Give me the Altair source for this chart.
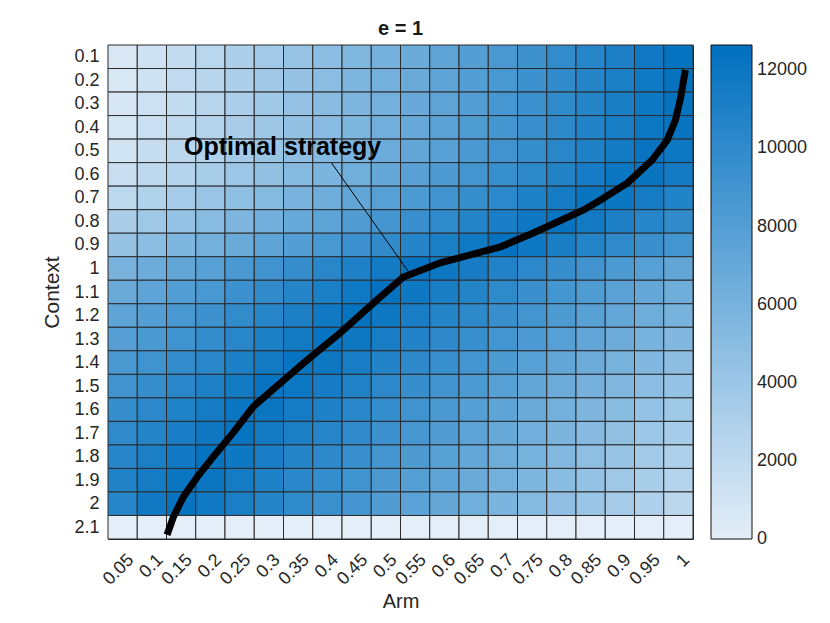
import altair as alt
import pandas as pd

arms = [0.05, 0.1, 0.15, 0.2, 0.25, 0.3, 0.35, 0.4, 0.45, 0.5,
        0.55, 0.6, 0.65, 0.7, 0.75, 0.8, 0.85, 0.9, 0.95, 1.0]
contexts = [0.1, 0.2, 0.3, 0.4, 0.5, 0.6, 0.7, 0.8, 0.9, 1.0, 1.1,
            1.2, 1.3, 1.4, 1.5, 1.6, 1.7, 1.8, 1.9, 2.0, 2.1]

# one list per context row (0.1 ... 2.1), values per arm (0.05 ... 1)
row_01 = [560, 1180, 1800, 2420, 3040, 3660, 4280, 4900, 5520, 6140, 6760, 7380, 8000, 8620, 9240, 9860, 10480, 11100, 11720, 12340]
row_02 = [620, 1240, 1860, 2480, 3100, 3720, 4340, 4960, 5580, 6200, 6820, 7440, 8060, 8680, 9300, 9920, 10540, 11160, 11780, 12400]
row_03 = [680, 1300, 1920, 2540, 3160, 3780, 4400, 5020, 5640, 6260, 6880, 7500, 8120, 8740, 9360, 9980, 10600, 11220, 11840, 12340]
row_04 = [810, 1430, 2050, 2670, 3290, 3910, 4530, 5150, 5770, 6390, 7010, 7630, 8250, 8870, 9490, 10110, 10730, 11350, 11970, 12220]
row_05 = [1050, 1670, 2290, 2910, 3530, 4150, 4770, 5390, 6010, 6630, 7250, 7870, 8490, 9110, 9730, 10350, 10970, 11590, 12210, 11990]
row_06 = [1490, 2110, 2730, 3350, 3970, 4590, 5210, 5830, 6450, 7070, 7690, 8310, 8930, 9550, 10170, 10790, 11410, 12030, 12160, 11570]
row_07 = [2230, 2850, 3470, 4090, 4710, 5330, 5950, 6570, 7190, 7810, 8430, 9050, 9670, 10290, 10910, 11530, 12150, 12050, 11460, 10870]
row_08 = [3220, 3840, 4460, 5080, 5700, 6320, 6940, 7560, 8180, 8800, 9420, 10040, 10660, 11280, 11900, 12280, 11690, 11100, 10510, 9920]
row_09 = [4340, 4960, 5580, 6200, 6820, 7440, 8060, 8680, 9300, 9920, 10540, 11160, 11780, 12400, 11810, 11220, 10630, 10040, 9450, 8860]
row_10 = [6010, 6630, 7250, 7870, 8490, 9110, 9730, 10350, 10970, 11590, 12210, 11990, 11400, 10810, 10220, 9630, 9040, 8450, 7860, 7270]
row_11 = [6820, 7440, 8060, 8680, 9300, 9920, 10540, 11160, 11780, 12400, 11810, 11220, 10630, 10040, 9450, 8860, 8270, 7680, 7090, 6500]
row_12 = [7380, 8000, 8620, 9240, 9860, 10480, 11100, 11720, 12340, 11870, 11280, 10690, 10100, 9510, 8920, 8330, 7740, 7150, 6560, 5970]
row_13 = [7940, 8560, 9180, 9800, 10420, 11040, 11660, 12280, 11930, 11340, 10750, 10160, 9570, 8980, 8390, 7800, 7210, 6620, 6030, 5440]
row_14 = [8560, 9180, 9800, 10420, 11040, 11660, 12280, 11930, 11340, 10750, 10160, 9570, 8980, 8390, 7800, 7210, 6620, 6030, 5440, 4850]
row_15 = [9110, 9730, 10350, 10970, 11590, 12210, 11990, 11400, 10810, 10220, 9630, 9040, 8450, 7860, 7270, 6680, 6090, 5500, 4910, 4320]
row_16 = [9610, 10230, 10850, 11470, 12090, 12110, 11520, 10930, 10340, 9750, 9160, 8570, 7980, 7390, 6800, 6210, 5620, 5030, 4440, 3850]
row_17 = [10040, 10660, 11280, 11900, 12280, 11690, 11100, 10510, 9920, 9330, 8740, 8150, 7560, 6970, 6380, 5790, 5200, 4610, 4020, 3430]
row_18 = [10480, 11100, 11720, 12340, 11870, 11280, 10690, 10100, 9510, 8920, 8330, 7740, 7150, 6560, 5970, 5380, 4790, 4200, 3610, 3020]
row_19 = [10850, 11470, 12090, 12110, 11520, 10930, 10340, 9750, 9160, 8570, 7980, 7390, 6800, 6210, 5620, 5030, 4440, 3850, 3260, 2670]
row_20 = [10500, 11700, 12340, 11750, 11160, 10570, 9980, 9390, 8800, 8210, 7620, 7030, 6440, 5850, 5260, 4670, 4080, 3490, 2900, 2310]
row_21 = [0, 0, 0, 0, 0, 0, 0, 0, 0, 0, 0, 0, 0, 0, 0, 0, 0, 0, 0, 0]

rows = [row_01, row_02, row_03, row_04, row_05, row_06, row_07, row_08, row_09, row_10, row_11,
        row_12, row_13, row_14, row_15, row_16, row_17, row_18, row_19, row_20, row_21]

# optimal strategy curve (arm, context)
curve_arm = [1.012, 1.003, 0.995, 0.981, 0.955, 0.913, 0.867, 0.838, 0.752, 0.696, 0.593, 0.530,
             0.485, 0.422, 0.366, 0.320, 0.273, 0.239, 0.205, 0.178, 0.154, 0.137, 0.126]
curve_ctx = [0.156, 0.284, 0.369, 0.454, 0.539, 0.636, 0.709, 0.751, 0.849, 0.908, 0.976, 1.036,
             1.133, 1.274, 1.388, 1.486, 1.588, 1.698, 1.800, 1.885, 1.970, 2.055, 2.132]

label_text = ["Optimal strategy"]
label_arm = [0.3235]
label_ctx = [0.484]
pointer_arm = [0.407, 0.539]
pointer_ctx = [0.551, 1.015]

color_ticks = [0, 2000, 4000, 6000, 8000, 10000, 12000]

cells = pd.DataFrame(
    [{"arm": a, "ctx": c, "value": v}
     for c, row in zip(contexts, rows)
     for a, v in zip(arms, row)]
)
curve = pd.DataFrame({"arm": curve_arm, "ctx": curve_ctx, "order": list(range(len(curve_arm)))})
label = pd.DataFrame({"arm": label_arm, "ctx": label_ctx, "text": label_text})
pointer = pd.DataFrame({"arm": [pointer_arm[0]], "ctx": [pointer_ctx[0]],
                        "arm2": [pointer_arm[1]], "ctx2": [pointer_ctx[1]]})

FONT = "Liberation Sans"
TXT = "#262626"

xscale = alt.Scale(domain=[0.025, 1.025], nice=False, zero=False)
yscale = alt.Scale(domain=[0.05, 2.15], nice=False, zero=False, reverse=True)

heat = alt.Chart(cells).transform_calculate(
    x1="datum.arm - 0.025", x2="datum.arm + 0.025",
    y1="datum.ctx - 0.05", y2="datum.ctx + 0.05"
).mark_rect(stroke="#2b2b2b", strokeWidth=1).encode(
    x=alt.X("x1:Q", scale=xscale, title="Arm",
            axis=alt.Axis(values=arms, tickCount=40, format="~g", labelAngle=-45, labelAlign="right",
                          labelBaseline="middle", labelOffset=8, labelPadding=18, titlePadding=3,
                          titleFontSize=20)),
    x2="x2:Q",
    y=alt.Y("y1:Q", scale=yscale, title="Context",
            axis=alt.Axis(values=contexts, tickCount=40, format="~g", labelPadding=9,
                          titlePadding=11)),
    y2="y2:Q",
    color=alt.Color(
        "value:Q",
        scale=alt.Scale(domain=[-1, 12650], range=["#e4eef8", "#0070bf"], nice=False, zero=False,
                        interpolate="rgb"),
        legend=alt.Legend(
            title=None, orient="none", legendX=603, legendY=0, direction="vertical",
            gradientLength=494, gradientThickness=41, gradientStrokeColor="#111",
            gradientStrokeWidth=1, values=color_ticks, format="d", labelFontSize=18, labelFont=FONT,
            labelColor=TXT, labelOffset=5, labelOverlap=False,
        ),
    ),
)

line = alt.Chart(curve).mark_line(color="black", strokeWidth=7, strokeCap="butt", clip=True).encode(
    x=alt.X("arm:Q", scale=xscale),
    y=alt.Y("ctx:Q", scale=yscale),
    order="order:Q",
)

pointer_rule = alt.Chart(pointer).mark_rule(color="black", strokeWidth=1).encode(
    x=alt.X("arm:Q", scale=xscale), y=alt.Y("ctx:Q", scale=yscale),
    x2="arm2:Q", y2="ctx2:Q",
)

text = alt.Chart(label).mark_text(font=FONT, fontSize=25, fontWeight="bold", color="black",
                                  align="center", baseline="middle").encode(
    x=alt.X("arm:Q", scale=xscale), y=alt.Y("ctx:Q", scale=yscale), text="text:N",
)

chart = alt.layer(heat, line, pointer_rule, text).properties(
    width=585, height=494,
    title=alt.TitleParams("e = 1", font=FONT, fontSize=20, fontWeight="bold", color="#1a1a1a", offset=6),
    autosize=alt.AutoSizeParams(type="none"),
    padding={"left": 100, "top": 37, "right": 129, "bottom": 76},
).configure_view(
    stroke="#2b2b2b", strokeWidth=1
).configure_axis(
    ticks=False, grid=False, domain=False, labelFontSize=18, titleFontSize=21,
    titleFontWeight="normal", labelColor=TXT, titleColor=TXT, labelFont=FONT, titleFont=FONT,
    labelOverlap=False, labelBound=False, labelFlush=False,
)

chart.save("out.html", embed_options={"renderer": "svg", "actions": False})
